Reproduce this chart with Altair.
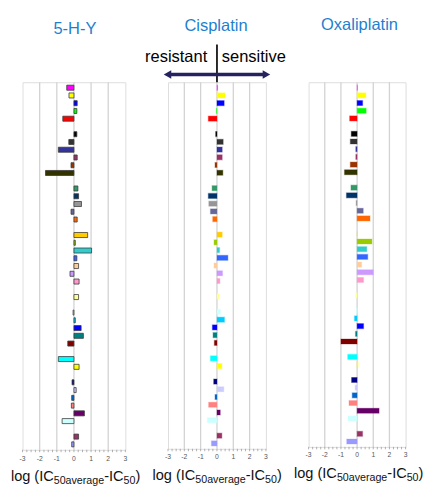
import altair as alt
import pandas as pd

# ---------------- data ----------------
panel_titles = ["5-H-Y", "Cisplatin", "Oxaliplatin"]

# row index (0 = top) of each cell line; blank rows separate the groups
rows = [0, 1, 2, 3, 4,
        6, 7, 8, 9, 10, 11,
        13, 14, 15, 16, 17,
        19, 20, 21, 22, 23, 24, 25,
        27,
        29, 30, 31, 32, 33,
        35, 36,
        38, 39, 40, 41, 42, 43,
        45, 46]

colors = ["#FF00FF", "#FFFF00", "#0000FF", "#00FF00", "#FF0000",
          "#000000", "#333333", "#333399", "#993366", "#993300", "#333300",
          "#339966", "#003366", "#969696", "#666699", "#FF6600",
          "#FFCC00", "#99CC00", "#33CCCC", "#3366FF", "#FFCC99", "#CC99FF", "#FF99CC",
          "#FFFF99",
          "#CCFFFF", "#00CCFF", "#0000FF", "#008080", "#800000",
          "#00FFFF", "#FFFF00",
          "#000080", "#CCCCFF", "#0066CC", "#FF8080", "#660066", "#CCFFFF",
          "#993366", "#9999FF"]

hy_values = [-0.42, -0.29, 0.19, 0.17, -0.65,
             0.17, -0.30, -0.91, 0.19, -0.17, -1.66,
             0.23, 0.27, 0.44, -0.17, 0.19,
             0.80, 0.08, 1.03, 0.17, 0.27, -0.23, 0.30,
             0.27,
             -0.05, 0.08, 0.42, 0.55, -0.36,
             -0.91, 0.30,
             -0.11, 0.13, -0.13, -0.15, 0.61, -0.69,
             0.27, -0.13]

cis_values = [0.03, 0.50, 0.44, -0.03, -0.53,
              -0.08, 0.38, 0.32, 0.32, -0.12, 0.36,
              -0.30, -0.53, -0.50, -0.40, -0.26,
              0.32, -0.18, 0.16, 0.67, -0.18, 0.34, 0.18,
              0.14,
              0.22, 0.46, -0.28, -0.24, -0.16,
              -0.40, 0.30,
              -0.20, 0.42, -0.12, -0.51, 0.20, -0.59,
              0.30, -0.34]

oxa_values = [0.02, 0.54, 0.34, 0.56, -0.46,
              -0.36, -0.42, -0.08, -0.08, -0.42, -0.78,
              -0.38, -0.66, -0.06, 0.38, 0.80,
              0.00, 0.92, 0.60, 0.66, 0.28, 1.00, 0.40,
              -0.08,
              -0.04, -0.16, 0.40, -0.10, -1.00,
              -0.58, 0.06,
              -0.34, -0.12, -0.30, -0.50, 1.36, -0.56,
              0.34, -0.64]

grid_values = [-2, -1, 0, 1, 2]
tick_label_values = [-3, -2, -1, 0, 1, 2, 3]
tick_label_texts = ["-3", "-2", "-1", "0", "1", "2", "3"]
minor_tick_values = [i / 4 for i in range(-12, 13)]
arrow_labels = ["resistant", "sensitive"]
# x-axis title pieces: (text, is_subscript)
axis_title_parts = [("log (IC", False), ("50average", True), ("-IC", False), ("50", True), (")", False)]

# ---------------- style ----------------
FONT = "Liberation Sans"
BLUE = "#1f7fcf"
NAVY = "#24235f"
N_ROWS = 47
MAIN_FS = 15
SUB_FS = 11
EM = {"log (IC": 2.945, "50average": 4.725, "-IC": 1.333, "50": 1.112, ")": 0.333}

one = pd.DataFrame({"a": [0]})
XSCALE = alt.Scale(domain=[-3, 3], nice=False)


def panel(values, title, width, height, title_x, title_y, label_x, label_dy, bordered, extra=None):
    df = pd.DataFrame({"row": rows, "v": values, "c": colors})
    grid = alt.Chart(pd.DataFrame({"g": grid_values})).mark_rule(
        color="#d2d2d2", strokeWidth=1.3
    ).encode(x=alt.X("g:Q", scale=XSCALE, axis=None))

    minor = alt.Chart(pd.DataFrame({"m": minor_tick_values})).mark_rule(
        color="#9a9a9a", strokeWidth=0.8
    ).encode(x=alt.X("m:Q", scale=XSCALE, axis=None),
             y=alt.value(height), y2=alt.value(height + 2.5))

    tlabels = alt.Chart(pd.DataFrame({"t": tick_label_values, "s": tick_label_texts})).mark_text(
        fontSize=7, color="#555555", baseline="middle", align="center", font=FONT
    ).encode(x=alt.X("t:Q", scale=XSCALE, axis=None), y=alt.value(height + label_dy),
             text="s:N")

    if bordered:
        bar_mark = alt.Chart(df).mark_bar(stroke="#3a3a3a", strokeWidth=0.8)
    else:
        bar_mark = alt.Chart(df).mark_bar(strokeWidth=1.2, strokeOpacity=0.3)
    enc = dict(
        x=alt.X("v:Q", scale=XSCALE, stack=None, axis=None),
        y=alt.Y("row:O", scale=alt.Scale(domain=list(range(N_ROWS)),
                                          paddingInner=0.35, paddingOuter=0.375),
                axis=None),
        color=alt.Color("c:N", scale=None),
    )
    if not bordered:
        enc["stroke"] = alt.Stroke("c:N", scale=None)
    bars = bar_mark.encode(**enc)

    ttl = alt.Chart(one).mark_text(
        align="center", baseline="alphabetic", fontSize=17, color=BLUE, font=FONT
    ).encode(x=alt.value(title_x), y=alt.value(title_y), text=alt.value(title))

    layers = [grid, minor, tlabels, bars, ttl]
    off = 0.0
    for txt, sub in axis_title_parts:
        fs = SUB_FS if sub else MAIN_FS
        layers.append(
            alt.Chart(one).mark_text(
                align="left", baseline="alphabetic", fontSize=fs, color="#111111", font=FONT
            ).encode(x=alt.value(label_x + off), y=alt.value(height + (35.5 if sub else 32)),
                     text=alt.value(txt))
        )
        off += EM[txt] * fs
    if extra:
        layers += extra(width)
    return alt.layer(*layers).properties(width=width, height=height)


def cis_extra(width):
    zero_line = alt.Chart(one).mark_rule(color="black", strokeWidth=1.7).encode(
        x=alt.datum(0, scale=XSCALE, axis=None),
        y=alt.value(-39), y2=alt.value(0))
    shaft = alt.Chart(one).mark_rule(color=NAVY, strokeWidth=3.5).encode(
        x=alt.value(1), x2=alt.value(width - 1), y=alt.value(-8))
    head_l = alt.Chart(one).mark_point(shape="triangle-left", filled=True, size=80,
                                       color=NAVY, opacity=1).encode(
        x=alt.value(-0.5), y=alt.value(-8))
    head_r = alt.Chart(one).mark_point(shape="triangle-right", filled=True, size=80,
                                       color=NAVY, opacity=1).encode(
        x=alt.value(width + 0.5), y=alt.value(-8))
    t_l = alt.Chart(one).mark_text(align="right", baseline="alphabetic", fontSize=17,
                                   color="black", font=FONT).encode(
        x=alt.value(40.5), y=alt.value(-20.5), text=alt.value(arrow_labels[0]))
    t_r = alt.Chart(one).mark_text(align="left", baseline="alphabetic", fontSize=17,
                                   color="black", font=FONT).encode(
        x=alt.value(55.5), y=alt.value(-20.5), text=alt.value(arrow_labels[1]))
    return [zero_line, shaft, head_l, head_r, t_l, t_r]


p1 = panel(hy_values, panel_titles[0], 106, 379, 54, -50, -12, 9.5, True)
p2 = panel(cis_values, panel_titles[1], 101, 378, 49.5, -53, -16, 9.0, False, cis_extra)
p3 = panel(oxa_values, panel_titles[2], 100, 376, 52.5, -54, -15, 8.5, False)

chart = alt.hconcat(p1, p2, p3, spacing=44, bounds="flush").properties(
    padding={"left": 2, "top": 0, "right": 0, "bottom": 0}
).configure_view(
    stroke="#7c7c7c", strokeWidth=1.5
).configure(font=FONT)

chart.save("out.html", embed_options={"renderer": "svg", "actions": False})
